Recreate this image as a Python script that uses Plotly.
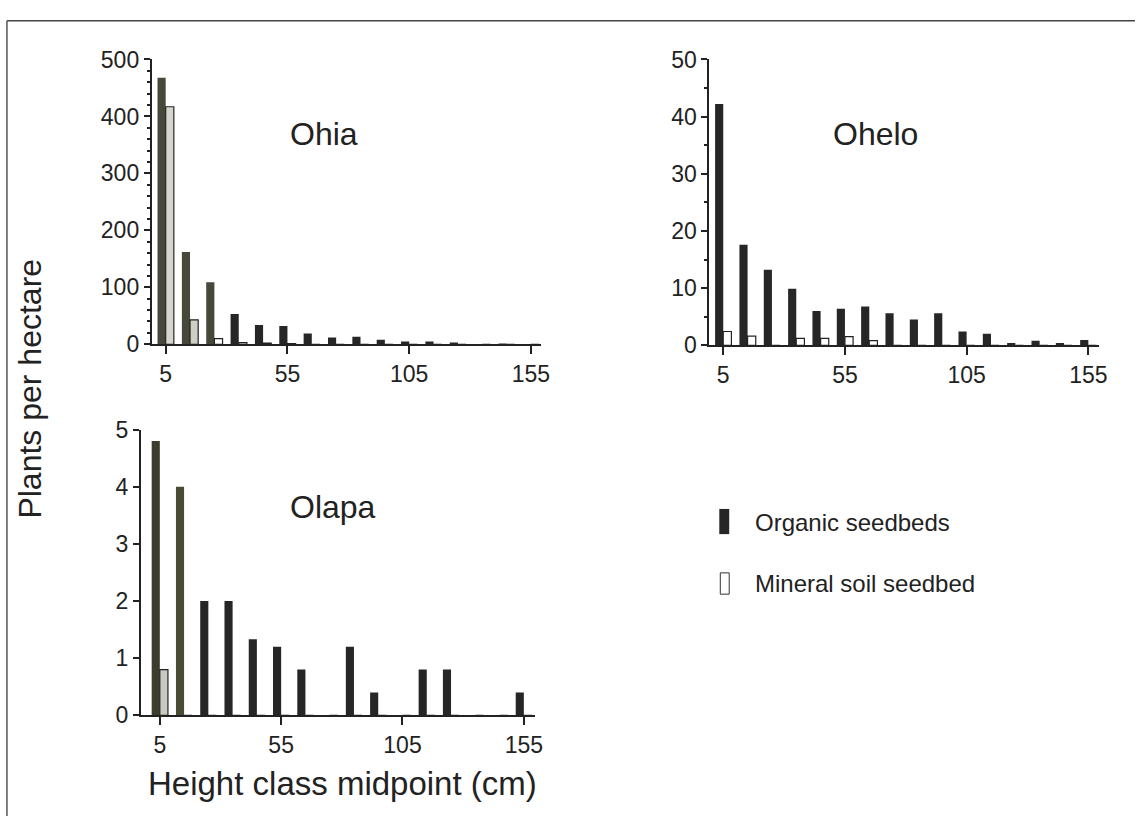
import plotly.graph_objects as go

W, H = 1144, 829

# ---------------- data ----------------
heights = [5, 15, 25, 35, 45, 55, 65, 75, 85, 95, 105, 115, 125, 135, 145, 155]

ohia_organic = [468, 162, 109, 53, 34, 32, 19, 12, 13, 8, 5, 5, 2, 0, 1, 0]
ohia_mineral = [417, 43, 10, 3, 2, 1, 0, 0, 0, 0, 0, 0, 0, 0, 0, 0]

ohelo_organic = [42.2, 17.6, 13.2, 9.9, 6.0, 6.4, 6.8, 5.6, 4.5, 5.6, 2.4, 2.0, 0.4, 0.8, 0.4, 0.9]
ohelo_mineral = [2.4, 1.6, 0, 1.2, 1.2, 1.5, 0.8, 0, 0, 0, 0, 0, 0, 0, 0, 0]

olapa_organic = [4.8, 4.0, 2.0, 2.0, 1.33, 1.2, 0.8, 0, 1.2, 0.4, 0, 0.8, 0.8, 0, 0, 0.4]
olapa_mineral = [0.8, 0, 0, 0, 0, 0, 0, 0, 0, 0, 0, 0, 0, 0, 0, 0]

species = ["Ohia", "Ohelo", "Olapa"]
series_names = ["Organic seedbeds", "Mineral soil seedbed"]
x_ticks = [5, 55, 105, 155]
x_axis_title = "Height class midpoint (cm)"
y_axis_title = "Plants per hectare"

# ---------------- styles (scan tint on first bars) ----------------
DARK = "#262626"
OLIVE = "#47483a"
ohia_org_colors = [OLIVE, OLIVE, OLIVE] + [DARK] * 13
ohia_min_colors = ["#d6d6cc", "#cfcfc6"] + ["white"] * 14
ohelo_org_colors = [DARK] * 16
ohelo_min_colors = ["white"] * 16
olapa_org_colors = ["#3c3d2c", "#4a4b35"] + [DARK] * 14
olapa_min_colors = ["#c9c9c0"] + ["white"] * 15

FONT = "Liberation Sans, Arial, Helvetica, sans-serif"
TXT = "#222"


def px(x):
    return x / W


def py(y):
    return 1 - y / H


fig = go.Figure()

panels = [
    (ohia_organic, ohia_mineral, ohia_org_colors, ohia_min_colors, (153, 545), (48, 342), [0, 500], 100, 20, [-0.7, 159]),
    (ohelo_organic, ohelo_mineral, ohelo_org_colors, ohelo_min_colors, (715, 1108), (48, 343), [0, 50], 10, 5, [-0.7, 159.5]),
    (olapa_organic, olapa_mineral, olapa_org_colors, olapa_min_colors, (142, 539), (430, 725), [0, 5], 1, None, [-2.8, 159.5]),
]

layout_axes = {}
for i, (org, mnr, oc, mc, xd, yd, yr, ydt, ymin, xr) in enumerate(panels):
    n = "" if i == 0 else str(i + 1)
    xa, ya = "x" + n, "y" + n
    fig.add_trace(go.Bar(x=heights, y=org, name=series_names[0], xaxis=xa, yaxis=ya,
                         marker=dict(color=oc, line=dict(width=0)),
                         offsetgroup="org", showlegend=False))
    fig.add_trace(go.Bar(x=heights, y=mnr, name=series_names[1], xaxis=xa, yaxis=ya,
                         marker=dict(color=mc, line=dict(width=1.2, color="#222")),
                         offsetgroup="min", showlegend=False))
    layout_axes["xaxis" + n] = dict(
        domain=[px(xd[0]), px(xd[1])], anchor=ya, range=xr,
        tickvals=x_ticks, ticks="outside", ticklen=8, tickwidth=2, tickcolor=TXT,
        showline=True, linewidth=2, linecolor=TXT, showgrid=False, zeroline=False,
        tickfont=dict(family=FONT, size=23, color=TXT), fixedrange=True,
    )
    ya_cfg = dict(
        domain=[py(yd[1]), py(yd[0])], anchor=xa, range=yr,
        dtick=ydt, tick0=0, ticks="outside", ticklen=6, tickwidth=2, tickcolor=TXT,
        showline=True, linewidth=2, linecolor=TXT, showgrid=False, zeroline=False,
        tickfont=dict(family=FONT, size=23, color=TXT), fixedrange=True,
    )
    if ymin:
        ya_cfg["minor"] = dict(dtick=ymin, ticks="outside", ticklen=3, tickwidth=1.5,
                               tickcolor=TXT, showgrid=False)
    layout_axes["yaxis" + n] = ya_cfg


def ann(text, x, y, size, xanchor="center", angle=0):
    return dict(text=text, x=px(x), y=py(y), xref="paper", yref="paper",
                xanchor=xanchor, yanchor="middle", textangle=angle,
                showarrow=False, font=dict(family=FONT, size=size, color=TXT))


annotations = [
    ann(species[0], 327, 125, 32),
    ann(species[1], 882, 125, 32),
    ann(species[2], 336, 510, 32),
    ann(y_axis_title, 30, 388, 32, angle=-90),
    ann(x_axis_title, 345, 795, 33),
    ann(series_names[0], 759, 526, 24, xanchor="left"),
    ann(series_names[1], 759, 589, 24, xanchor="left"),
]

shapes = [
    dict(type="rect", xref="paper", yref="paper", x0=px(725), x1=px(735), y0=py(538), y1=py(512),
         fillcolor=DARK, line=dict(width=0)),
    dict(type="rect", xref="paper", yref="paper", x0=px(726), x1=px(735), y0=py(600), y1=py(578),
         fillcolor="white", line=dict(width=1, color="#333")),
    dict(type="line", xref="paper", yref="paper", x0=px(7), x1=1, y0=py(8), y1=py(8),
         line=dict(width=1.5, color="#444")),
    dict(type="line", xref="paper", yref="paper", x0=px(7), x1=px(7), y0=py(8), y1=0,
         line=dict(width=1.5, color="#555")),
]

fig.update_layout(
    width=W, height=H, margin=dict(l=0, r=0, t=0, b=0),
    paper_bgcolor="white", plot_bgcolor="white",
    barmode="group", bargap=0.33, bargroupgap=0,
    annotations=annotations, shapes=shapes, showlegend=False,
    **layout_axes,
)

fig.write_html(
    "out.html",
    config={"displayModeBar": False},
    post_script=(
        "document.documentElement.style.margin='0';document.documentElement.style.padding='0';"
        "document.documentElement.style.overflow='hidden';"
        "document.body.style.margin='0';document.body.style.padding='0';"
        "document.body.style.overflow='hidden';"
        "var d=document.getElementById('{plot_id}');"
        "d.style.position='fixed';d.style.top='0px';d.style.left='0px';"
    ),
)
